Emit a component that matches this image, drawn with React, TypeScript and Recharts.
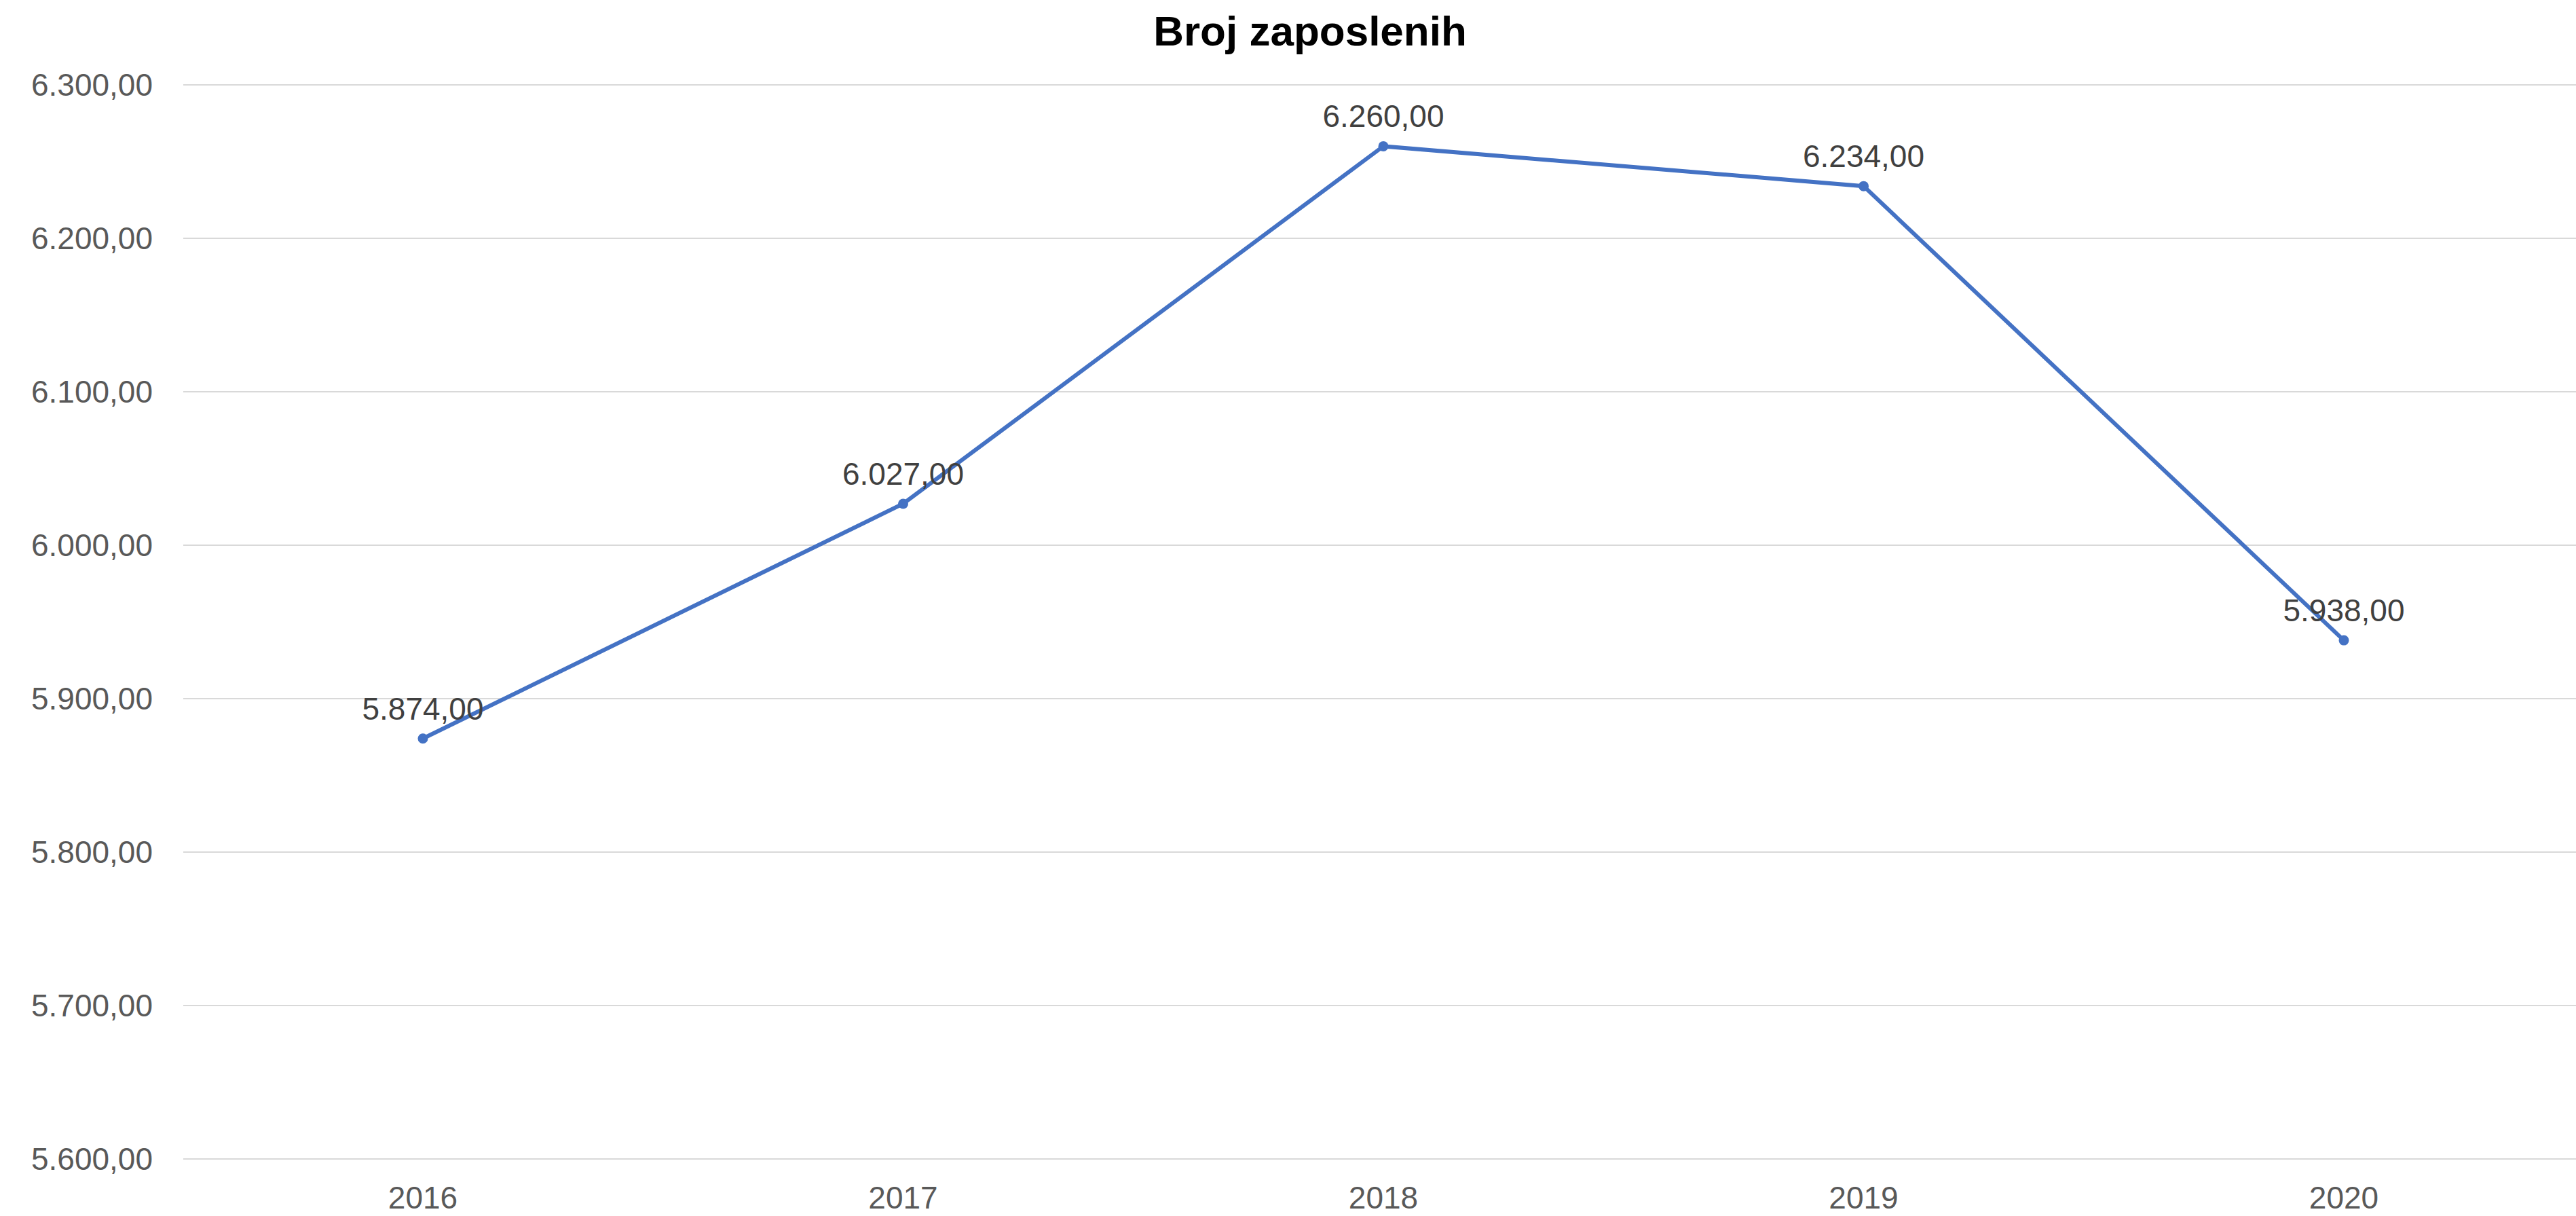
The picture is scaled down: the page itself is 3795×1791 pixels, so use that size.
import { CartesianGrid, LabelList, Line, LineChart, XAxis, YAxis } from "recharts";

const years = ["2016", "2017", "2018", "2019", "2020"];
const employees = [5874, 6027, 6260, 6234, 5938];
const yTicks = [5600, 5700, 5800, 5900, 6000, 6100, 6200, 6300];

const data = years.map((year, i) => ({ year, value: employees[i] }));

const FONT = "'Liberation Sans', Arial, sans-serif";
const LINE_COLOR = "#4472C4";

// 6300 -> "6.300,00"
function formatHr(n: number) {
  const [whole, dec] = n.toFixed(2).split(".");
  return whole.replace(/\B(?=(\d{3})+(?!\d))/g, ".") + "," + dec;
}

export default function App() {
  return (
    <div style={{ position: "absolute", left: 0, top: 0, width: 3795, height: 1791, background: "#fff", fontFamily: FONT }}>
      <div
        style={{
          position: "absolute",
          top: 15,
          left: 1930,
          transform: "translateX(-50%)",
          fontSize: 62,
          lineHeight: "62px",
          fontWeight: 700,
          color: "#000",
          whiteSpace: "nowrap",
        }}
      >
        Broj zaposlenih
      </div>
      <LineChart width={3795} height={1791} data={data} margin={{ top: 125, right: 0, bottom: 0, left: 0 }}>
        <CartesianGrid vertical={false} stroke="#d9d9d9" strokeWidth={2} />
        <XAxis
          dataKey="year"
          axisLine={false}
          tickLine={false}
          tickSize={0}
          tickMargin={40}
          height={84}
          padding={{ left: 353, right: 342 }}
          tick={{ fill: "#595959", fontSize: 46, fontFamily: FONT }}
        />
        <YAxis
          domain={[5600, 6300]}
          ticks={yTicks}
          axisLine={false}
          tickLine={false}
          tickSize={0}
          tickMargin={45}
          width={270}
          tickFormatter={formatHr}
          tick={{ fill: "#595959", fontSize: 46, fontFamily: FONT }}
        />
        <Line
          type="linear"
          dataKey="value"
          stroke={LINE_COLOR}
          strokeWidth={6}
          dot={{ r: 7.5, fill: LINE_COLOR, stroke: "none" }}
          isAnimationActive={false}
        >
          <LabelList
            dataKey="value"
            position="top"
            offset={28}
            formatter={(v: any) => formatHr(Number(v))}
            style={{ fill: "#404040", fontSize: 46, fontFamily: FONT }}
          />
        </Line>
      </LineChart>
    </div>
  );
}
